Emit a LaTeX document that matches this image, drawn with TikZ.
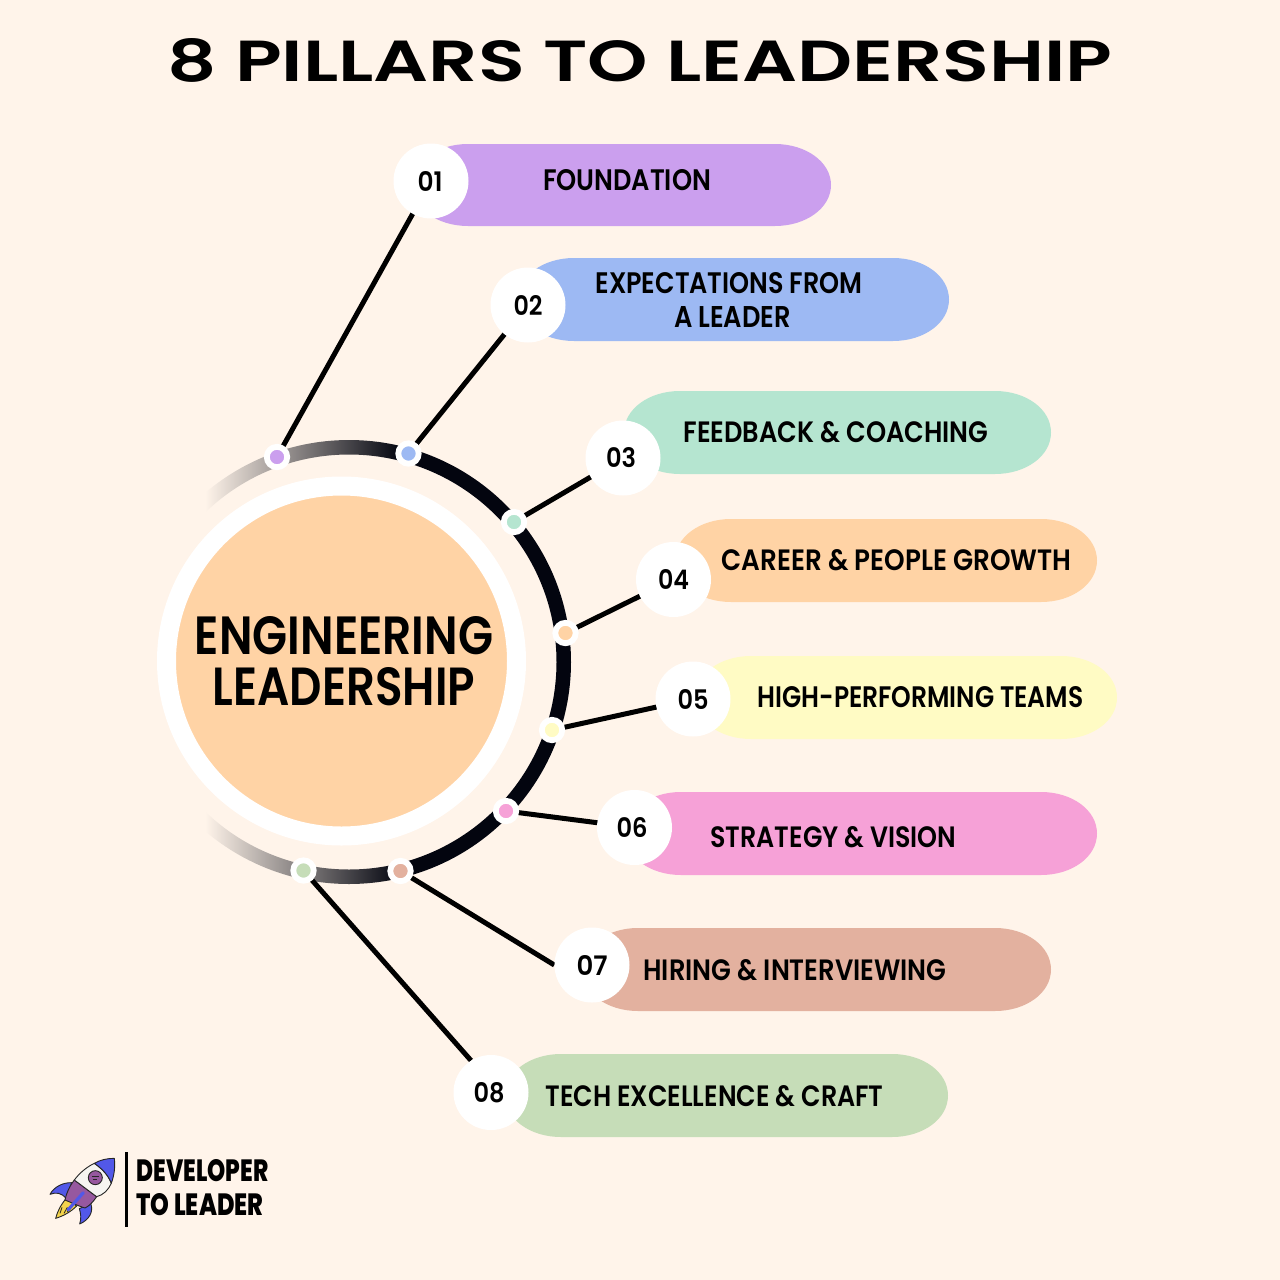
\documentclass[tikz,border=0pt]{standalone}
\usepackage{fontspec}
\usepackage{graphicx}
\setmainfont{Poppins}
\newfontfamily\labfont{Poppins SemiBold}
\newfontfamily\titlefont{Poppins SemiBold}
\newfontfamily\brandfont{Poppins ExtraBold}
\newcommand{\fitbox}[3]{\resizebox{#1pt}{#2pt}{#3}}
\definecolor{bgc}{HTML}{FFF4EA}
\definecolor{ringc}{HTML}{03050F}
\definecolor{cpurple}{HTML}{CB9FEE}
\definecolor{cblue}{HTML}{9DB9F3}
\definecolor{cmint}{HTML}{B5E5D0}
\definecolor{cpeach}{HTML}{FFD3A5}
\definecolor{cyellow}{HTML}{FFFBC4}
\definecolor{cpink}{HTML}{F6A1D7}
\definecolor{cbrown}{HTML}{E3B19F}
\definecolor{cgreen}{HTML}{C6DDB8}
\definecolor{rblue}{HTML}{5258E8}
\definecolor{rpurple}{HTML}{96589F}
\definecolor{rwhite}{HTML}{F6F5F1}
\definecolor{ryellow}{HTML}{F4D44C}
\pgfdeclarelayer{under}
\pgfsetlayers{under,main}
% pill: left, right, top, bottom, colour
\newcommand{\pillshape}[5]{%
  \fill[#5] ({#1+56},#3) -- ({#2-56},#3)
    .. controls ({#2-25},#3) and (#2,{#3+18}) .. (#2,{(#3+#4)/2})
    .. controls (#2,{#4-18}) and ({#2-25},#4) .. ({#2-56},#4)
    -- ({#1+56},#4)
    .. controls ({#1+25},#4) and (#1,{#4-18}) .. (#1,{(#3+#4)/2})
    .. controls (#1,{#3+18}) and ({#1+25},#3) .. ({#1+56},#3) -- cycle;}
\tikzset{
  numcircle/.style={circle,fill=white,minimum size=75pt,inner sep=0pt,text=black,font=\labfont},
  ringdot/.style={circle,draw=white,line width=5.8pt,minimum size=20.4pt,inner sep=0pt},
  pilltext/.style={inner sep=0pt,text=black,font=\labfont,align=center},
  wire/.style={line width=5pt,black},
  rockline/.style={draw=black!85,line width=0.9pt,line join=round}
}
\begin{document}
\begin{tikzpicture}[x=1pt,y=-1pt]
\useasboundingbox (0,0) rectangle (1280,1280);
% title
\node[inner sep=0pt,font=\titlefont] (title) at (640,60.5) {\fitbox{945}{43}{8 PILLARS TO LEADERSHIP}};
% hub
\node[circle,fill=cpeach,draw=white,line width=19pt,minimum size=350pt,inner sep=0pt,font=\labfont,align=center] (hub) at (341.5,661)
  {\hspace*{5pt}\fitbox{298}{38}{ENGINEERING}\\[12pt]\hspace*{5pt}\fitbox{262}{38}{LEADERSHIP}};
% small dots
\node[ringdot,fill=cpurple] (d1) at (277,457) {};
\node[ringdot,fill=cblue] (d2) at (408.5,453.5) {};
\node[ringdot,fill=cmint] (d3) at (514,522) {};
\node[ringdot,fill=cpeach] (d4) at (565.5,633) {};
\node[ringdot,fill=cyellow] (d5) at (552,730) {};
\node[ringdot,fill=cpink] (d6) at (506,811) {};
\node[ringdot,fill=cbrown] (d7) at (400.5,871) {};
\node[ringdot,fill=cgreen] (d8) at (303.5,870.5) {};
% number circles
\node[numcircle] (c1) at (431,181) {\fitbox{25}{20}{01}\kern2pt};
\node[numcircle] (c2) at (528,305) {\fitbox{29}{20}{02}};
\node[numcircle] (c3) at (623,458) {\fitbox{30}{20}{03}\kern4pt};
\node[numcircle] (c4) at (673.5,579.5) {\fitbox{31}{20}{04}};
\node[numcircle] (c5) at (693,699) {\fitbox{31}{20}{05}};
\node[numcircle] (c6) at (634.5,827.5) {\fitbox{31}{20}{06}\kern5pt};
\node[numcircle] (c7) at (592,965) {\fitbox{31}{20}{07}};
\node[numcircle] (c8) at (491,1092.5) {\fitbox{31}{20}{08}\kern4pt};
% labels
\node[pilltext] (l1) at (627,180.5) {\fitbox{168}{21}{FOUNDATION}};
\node[pilltext] (l2) at (729,300) {\fitbox{267}{21}{EXPECTATIONS FROM}\\[12pt]\hspace*{7pt}\fitbox{117}{21}{A LEADER}};
\node[pilltext] (l3) at (836,432) {\fitbox{305}{21}{FEEDBACK \& COACHING}};
\node[pilltext] (l4) at (896.5,560) {\fitbox{350}{21}{CAREER \& PEOPLE GROWTH}};
\node[pilltext] (l5) at (920.5,697) {\fitbox{326}{21}{HIGH-PERFORMING TEAMS}};
\node[pilltext] (l6) at (833.5,837) {\fitbox{246}{21}{STRATEGY \& VISION}};
\node[pilltext] (l7) at (795,970) {\fitbox{303}{21}{HIRING \& INTERVIEWING}};
\node[pilltext] (l8) at (714.5,1096) {\fitbox{338}{21}{TECH EXCELLENCE \& CRAFT}};
% brand
\node[inner sep=0pt,font=\brandfont] (b1) at (202.5,1170.5) {\fitbox{132}{22}{DEVELOPER}};
\node[inner sep=0pt,font=\brandfont] (b2) at (200,1204.5) {\fitbox{127}{22}{TO LEADER}};
\coordinate (rt) at (126.5,1152);
\coordinate (rb) at (126.5,1227);
\draw[line width=3pt,black] (rt) -- (rb);
% rocket
\begin{scope}[shift={(40,1150)},x=0.3333pt,y=-0.3333pt]
  \fill[rblue,rockline] (95,98) .. controls (70,97) and (42,110) .. (30,133) .. controls (48,126) and (64,128) .. (78,145) -- cycle;
  \fill[rblue,rockline] (152,160) .. controls (162,185) and (147,210) .. (119,222) .. controls (125,205) and (122,190) .. (118,176) -- cycle;
  \fill[ryellow,rockline] (78,146) .. controls (62,165) and (52,185) .. (47,205) .. controls (70,198) and (92,186) .. (110,168) -- cycle;
  \draw[black!85,line width=0.8pt] (66,172) -- (60,190) (82,172) -- (72,190) (94,172) -- (82,186);
  \fill[rpurple,rockline] (103,90) .. controls (86,112) and (78,135) .. (75,150) .. controls (95,158) and (115,168) .. (135,174) .. controls (148,168) and (160,155) .. (170,140) -- cycle;
  \fill[rwhite,rockline] (163,40) .. controls (138,52) and (118,70) .. (103,90) -- (170,140) .. controls (190,135) and (205,120) .. (214,100) .. controls (205,75) and (185,55) .. (163,40) -- cycle;
  \fill[rblue,rockline] (223,25) .. controls (200,25) and (180,30) .. (163,40) .. controls (185,55) and (205,75) .. (214,100) .. controls (223,75) and (226,50) .. (223,25) -- cycle;
  \fill[rpurple,rockline] (166,83) circle (21);
  \draw[black!85,line width=0.7pt] (156,79) -- (176,79) (158,87) -- (172,87);
  \draw[rblue,line width=3.2pt,line cap=round] (130,128) -- (84,180);
\end{scope}
% under layer
\begin{pgfonlayer}{under}
  \fill[bgc] (0,0) rectangle (1280,1280);
  \pillshape{412}{831}{144}{226}{cpurple}
  \pillshape{518}{949}{258}{341}{cblue}
  \pillshape{624}{1051}{391}{474}{cmint}
  \pillshape{675}{1097}{519}{602}{cpeach}
  \pillshape{695}{1117}{656}{739}{cyellow}
  \pillshape{625}{1097}{792}{875}{cpink}
  \pillshape{582}{1051}{928}{1011}{cbrown}
  \pillshape{505}{948}{1054}{1137}{cgreen}
  \begin{scope}[even odd rule]
    \clip (349,662) circle (222) (349,662) circle (207.5);
    \fill[ringc] (399.5,420) rectangle (600,900);
    \shade[left color=bgc,right color=ringc] (205,420) rectangle (400,900);
  \end{scope}
  \draw[wire] (d1.center) -- (c1.center);
  \draw[wire] (d2.center) -- (c2.center);
  \draw[wire] (d3.center) -- (c3.center);
  \draw[wire] (d4.center) -- (c4.center);
  \draw[wire] (d5.center) -- (c5.center);
  \draw[wire] (d6.center) -- (c6.center);
  \draw[wire] (d7.center) -- (c7.180);
  \draw[wire] (d8.center) -- (c8.122);
\end{pgfonlayer}
\end{tikzpicture}
\end{document}
